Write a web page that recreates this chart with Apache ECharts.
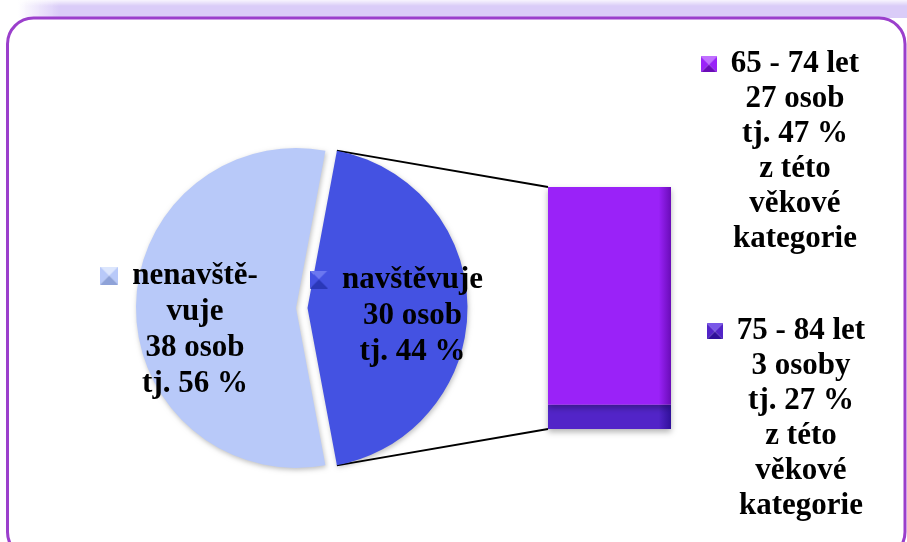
<!DOCTYPE html>
<html>
<head>
<meta charset="utf-8">
<script src="https://cdn.jsdelivr.net/npm/echarts@6/dist/echarts.min.js"></script>
<style>
html,body{margin:0;padding:0;background:#fff;}
#c{width:907px;height:542px;}
</style>
</head>
<body>
<div id="c"></div>
<script>
// ---- data ----
const pieNames = ['navštěvuje', 'nenavštěvuje'];
const pieLabelNames = [['navštěvuje'], ['nenavště-', 'vuje']];
const pieValues = [30, 38];
const pieUnits = ['osob', 'osob'];
const piePercents = [44, 56];
const barNames = ['65 - 74 let', '75 - 84 let'];
const barValues = [27, 3];
const barUnits = ['osob', 'osoby'];
const barPercents = [47, 27];
const barNoteLines = ['z této', 'věkové', 'kategorie'];

// ---- styles ----
const pieColors = ['#4452E2', '#B8C9F9'];
const pieIconColors = [['#6C78F0', '#4452E2', '#2A38B8'], ['#DCE6FD', '#B8C9F9', '#8EA2D8']];
const barColors = ['#9A22F8', '#5224C8'];
const barIconColors = [['#C070FF', '#9A22F8', '#6A0CB8'], ['#7A58E8', '#5224C8', '#30109A']];
const FONT = 'Liberation Serif';
const PIE_CX = 301.75, PIE_CY = 308, PIE_R = 160, PIE_OFF = 5.75;
const GRID = {left: 548, top: 187, width: 123, height: 242};

function bevelIcon(cols, s) {
  const c = document.createElement('canvas');
  c.width = s; c.height = s;
  const g = c.getContext('2d');
  const m = s / 2;
  function tri(p1, p2, col) {
    g.beginPath(); g.moveTo(p1[0], p1[1]); g.lineTo(p2[0], p2[1]); g.lineTo(m, m); g.closePath();
    g.fillStyle = col; g.fill();
  }
  tri([0, 0], [s, 0], cols[0]);
  tri([0, 0], [0, s], cols[1]);
  tri([s, 0], [s, s], cols[1]);
  tri([0, s], [s, s], cols[2]);
  return c;
}

const total = pieValues.reduce((a, b) => a + b, 0);
const sweep0 = pieValues[0] / total * 360;
const startAngle = sweep0 / 2;

const textStyle = {fontFamily: FONT, fontWeight: 'bold', fontSize: 31, lineHeight: 36, color: '#000'};
const textStyleBar = Object.assign({}, textStyle, {lineHeight: 35});

function pieRich(i) {
  return {
    ic: {width: 18, height: 18, backgroundColor: {image: bevelIcon(pieIconColors[i], 18)}},
    g: {width: 14},
    sp: {width: 32},
    t: textStyle
  };
}
function barRich(i) {
  return {
    ic: {width: 16, height: 16, backgroundColor: {image: bevelIcon(barIconColors[i], 16)}},
    g: {width: 14},
    sp: {width: 30},
    t: textStyleBar
  };
}

const pieLabelDelta = [[22, 7.5], [-18, 21.5]];
const pieData = pieValues.map((v, i) => {
  const lines = pieLabelNames[i].slice();
  lines.push(v + ' ' + pieUnits[i]);
  lines.push('tj. ' + piePercents[i] + ' %');
  const txt = lines.map((l, k) => k === 0 ? '{ic|}{g|}{t|' + l + '}{sp|}' : '{t|' + l + '}').join('\n');
  return {
    name: pieNames[i], value: v, selected: true,
    itemStyle: {color: pieColors[i]},
    label: {formatter: txt, rich: pieRich(i)}
  };
});

function barLabel(i) {
  const lines = [barNames[i], barValues[i] + ' ' + barUnits[i], 'tj. ' + barPercents[i] + ' %'].concat(barNoteLines);
  return lines.map((l, k) => k === 0 ? '{ic|}{g|}{t|' + l + '}{sp|}' : '{t|' + l + '}').join('\n');
}
const barLabelX = [124, 130];
const barLabelDy = [-144, 2];

function barSeries(i) {
  return {
    type: 'bar', name: barNames[i], stack: 'b', data: [barValues[i]],
    barWidth: '100%',
    itemStyle: {
      color: {type: 'linear', x: 0, y: 0, x2: 1, y2: 0, colorStops: [
        {offset: 0, color: barColors[i]}, {offset: 0.9, color: barColors[i]}, {offset: 1, color: barIconColors[i][2]}]},
      shadowBlur: 6, shadowColor: 'rgba(0,0,0,0.3)', shadowOffsetY: 3
    },
    label: {show: true, position: 'right', align: 'center', formatter: barLabel(i), rich: barRich(i), color: '#000'},
    labelLayout: function (p) {
      return {x: p.rect.x + p.rect.width + barLabelX[i], y: p.rect.y + p.rect.height / 2 + barLabelDy[i], align: 'center', verticalAlign: 'middle'};
    },
    silent: true
  };
}

const chart = echarts.init(document.getElementById('c'), null, {renderer: 'canvas'});
chart.setOption({
  animation: false,
  grid: {left: GRID.left, top: GRID.top, width: GRID.width, height: GRID.height, containLabel: false},
  xAxis: {type: 'category', data: [''], show: false},
  yAxis: {type: 'value', min: 0, max: 'dataMax', show: false},
  series: [
    {
      type: 'pie', center: [PIE_CX, PIE_CY], radius: PIE_R, startAngle: startAngle, clockwise: true,
      selectedMode: 'multiple', selectedOffset: PIE_OFF, avoidLabelOverlap: false, silent: true,
      itemStyle: {borderWidth: 0, shadowBlur: 5, shadowColor: 'rgba(0,0,0,0.25)', shadowOffsetX: 1, shadowOffsetY: 2},
      select: {itemStyle: {borderWidth: 0}},
      label: {show: true, position: 'inside', color: '#000', textBorderWidth: 0},
      labelLine: {show: false},
      labelLayout: function (p) {
        const d = pieLabelDelta[p.dataIndex];
        return {dx: d[0], dy: d[1]};
      },
      data: pieData
    },
    barSeries(1),
    barSeries(0)
  ]
});

// connector lines computed from pie geometry and bar axis
const rad = Math.PI / 180;
const mid = (startAngle - sweep0 / 2) * rad;
const dcx = PIE_CX + PIE_OFF * Math.cos(mid), dcy = PIE_CY - PIE_OFF * Math.sin(mid);
const a1 = startAngle * rad, a2 = (startAngle - sweep0) * rad;
const pTop = [dcx + PIE_R * Math.cos(a1), dcy - PIE_R * Math.sin(a1)];
const pBot = [dcx + PIE_R * Math.cos(a2), dcy - PIE_R * Math.sin(a2)];
const barTotal = barValues.reduce((a, b) => a + b, 0);
const yTop = chart.convertToPixel({yAxisIndex: 0}, barTotal);
const yBot = chart.convertToPixel({yAxisIndex: 0}, 0);

chart.setOption({
  graphic: [
    {type: 'rect', z: -10, silent: true, shape: {x: 0, y: 0, width: 907, height: 18},
      style: {fill: {type: 'linear', x: 18, y: 0, x2: 60, y2: 0, global: true, colorStops: [
        {offset: 0, color: 'rgba(218,204,248,0)'}, {offset: 1, color: 'rgba(218,204,248,1)'}]}}},
    {type: 'rect', z: -9, silent: true, shape: {x: 0, y: 0, width: 907, height: 6},
      style: {fill: {type: 'linear', x: 0, y: 0, x2: 0, y2: 1, colorStops: [
        {offset: 0, color: 'rgba(255,255,255,0.8)'}, {offset: 1, color: 'rgba(255,255,255,0)'}]}}},
    {type: 'rect', z: -8, silent: true, shape: {x: 7.5, y: 18, width: 897.5, height: 540, r: 26},
      style: {fill: '#fff', stroke: '#9B3FCC', lineWidth: 3}},
    {type: 'line', z: 1, silent: true, shape: {x1: pTop[0], y1: pTop[1], x2: GRID.left, y2: yTop},
      style: {stroke: '#000', lineWidth: 1.8}},
    {type: 'line', z: 1, silent: true, shape: {x1: pBot[0], y1: pBot[1], x2: GRID.left, y2: yBot},
      style: {stroke: '#000', lineWidth: 1.8}}
  ]
});
</script>
</body>
</html>
